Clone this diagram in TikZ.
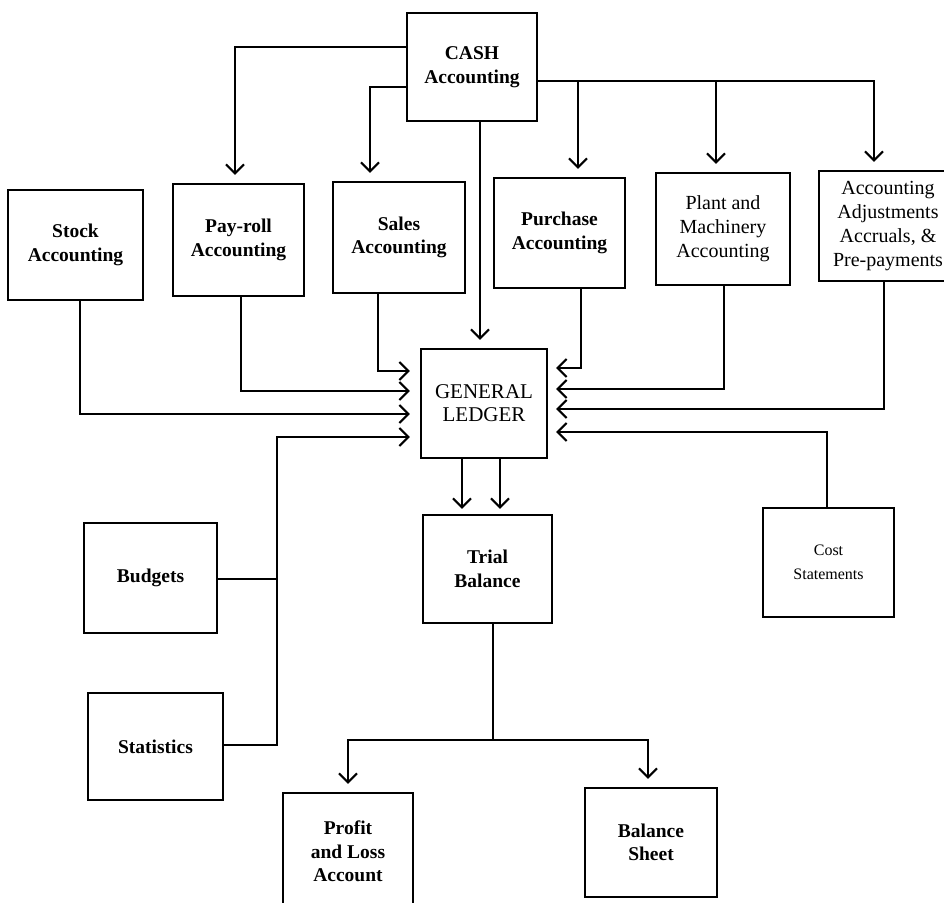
\documentclass[tikz,border=0pt]{standalone}
\usepackage{fontspec}
\setmainfont{Liberation Serif}
\usetikzlibrary{arrows.meta}

\tikzset{
  box/.style={draw, line width=2.4pt, align=center, inner sep=0pt,
              font=\fontsize{19.5}{23.5}\selectfont\bfseries},
  lightbox/.style={box, font=\fontsize{20}{24}\selectfont},
  conn/.style={line width=2pt},
  arr/.style={conn, -{Straight Barb[length=9pt,width=18pt]}, shorten >=8pt},
}

\begin{document}
\begin{tikzpicture}[x=1pt,y=-1pt]
  \useasboundingbox (0,0) rectangle (944,902);
  \clip (0,0) rectangle (944,902);
  \fill[white] (0,0) rectangle (944,902);

  % boxes
  \node[box, minimum width=130pt, minimum height=108pt] (cash) at (472,67) {CASH\\Accounting};
  \node[box, minimum width=135pt, minimum height=110pt] (stock) at (75.5,245) {Stock\\Accounting};
  \node[box, minimum width=131pt, minimum height=112pt] (payroll) at (238.5,240) {Pay-roll\\Accounting};
  \node[box, minimum width=132pt, minimum height=111pt] (sales) at (399,237.5) {Sales\\Accounting};
  \node[box, minimum width=131pt, minimum height=110pt] (purchase) at (559.5,233) {Purchase\\Accounting};
  \node[lightbox, minimum width=134pt, minimum height=112pt] (plant) at (723,229) {Plant and\\Machinery\\Accounting};
  \node[lightbox, minimum width=138pt, minimum height=110pt] (adj) at (888,226) {Accounting\\Adjustments\\Accruals, \&\\Pre-payments};
  \node[box, font=\fontsize{21}{23}\selectfont, minimum width=126pt, minimum height=109pt] (gl) at (484,403.5) {GENERAL\\LEDGER};
  \node[box, minimum width=129pt, minimum height=108pt] (trial) at (487.5,569) {Trial\\Balance};
  \node[box, font=\fontsize{16}{24}\selectfont, minimum width=131pt, minimum height=109pt] (cost) at (828.5,562.5) {Cost\\Statements};
  \node[box, minimum width=133pt, minimum height=110pt] (budgets) at (150.5,578) {Budgets};
  \node[box, minimum width=135pt, minimum height=107pt] (stats) at (155.5,746.5) {Statistics};
  \node[box, minimum width=130pt, minimum height=117pt] (pl) at (348,851.5) {Profit\\and Loss\\Account};
  \node[box, minimum width=132pt, minimum height=109pt] (bs) at (651,842.5) {Balance\\Sheet};

  % cash to the subsidiary books
  \draw[arr] (cash.west |- 0,47) -| (payroll.north -| 235,0);
  \draw[arr] (cash.west |- 0,87) -| (sales.north -| 370,0);
  \draw[arr] (cash.east |- 0,81) -| (purchase.north -| 578,0);
  \draw[arr] (cash.east |- 0,81) -| (plant.north -| 716,0);
  \draw[arr] (cash.east |- 0,81) -| (adj.north -| 874,0);
  \draw[arr] (cash.south -| 480,0) -- (gl.north -| 480,0);

  % postings into the general ledger
  \draw[arr, shorten >=10pt] (stock.south -| 80,0) |- (gl.west |- 0,414);
  \draw[arr, shorten >=10pt] (payroll.south -| 241,0) |- (gl.west |- 0,391);
  \draw[arr, shorten >=10pt] (sales.south -| 378,0) |- (gl.west |- 0,371);
  \draw[arr] (purchase.south -| 581,0) |- (gl.east |- 0,368);
  \draw[arr] (plant.south -| 724,0) |- (gl.east |- 0,389);
  \draw[arr] (adj.south -| 884,0) |- (gl.east |- 0,409);
  \draw[arr] (cost.north -| 827,0) |- (gl.east |- 0,432);

  % budgets and statistics
  \coordinate (jt) at (277,437);
  \coordinate (jb) at (277,745);
  \draw[arr, shorten >=10pt] (stats.east |- jb) -- (jb) -- (jt) -- (gl.west |- jt);
  \draw[conn] (budgets.east |- 0,579) -| (jt);

  % ledger to trial balance
  \draw[arr, shorten >=5pt] (gl.south -| 462,0) -- (trial.north -| 462,0);
  \draw[arr, shorten >=5pt] (gl.south -| 500,0) -- (trial.north -| 500,0);

  % final accounts
  \coordinate (split) at (493,740);
  \draw[conn] (trial.south -| split) -- (split);
  \draw[arr] (split) -| (pl.north -| 348,0);
  \draw[arr] (split) -| (bs.north -| 648,0);
\end{tikzpicture}
\end{document}
